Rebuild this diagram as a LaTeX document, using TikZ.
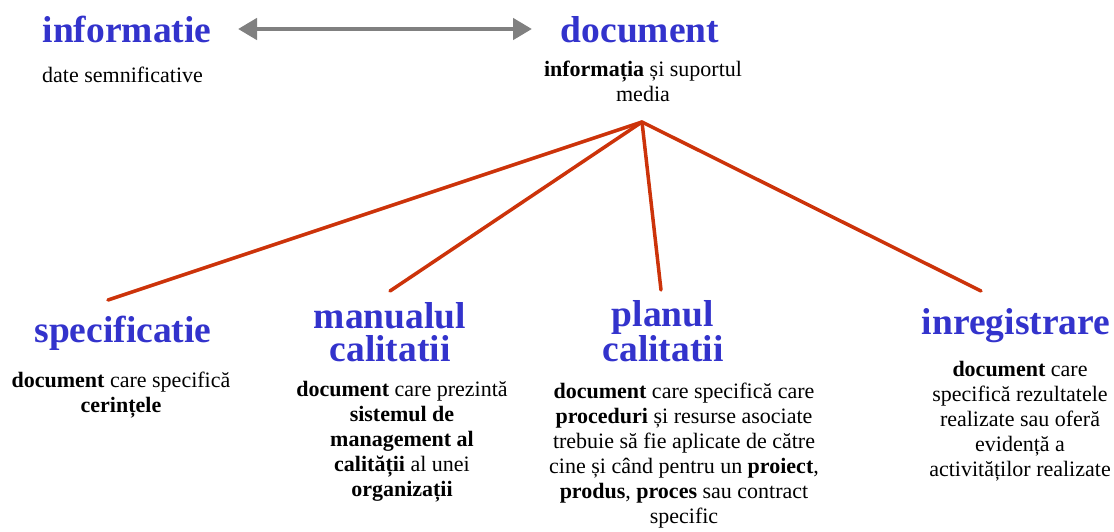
\documentclass[tikz,border=0pt]{standalone}
\usepackage{fontspec}
\setmainfont{Liberation Serif}
\usetikzlibrary{arrows.meta}
\definecolor{titleblue}{RGB}{51,51,204}
\definecolor{linkred}{RGB}{204,51,10}
\definecolor{arrowgray}{RGB}{128,128,128}
\begin{document}
\begin{tikzpicture}[x=1pt,y=-1pt,
  % multi-line nodes are placed by the baseline of their last line
  title/.style={anchor=base,align=center,text=titleblue,inner sep=0pt,
    font=\fontsize{37.5}{32.5}\selectfont\bfseries},
  desc/.style={anchor=base,align=center,text=black,inner sep=0pt,
    font=\fontsize{22}{25}\selectfont},
  link/.style={draw=linkred,line width=3.5pt,line cap=round},
  both/.style={draw=arrowgray,line width=4.5pt,
    {Triangle[length=19pt,width=21pt]}-{Triangle[length=19pt,width=21pt]}}]
\useasboundingbox (0,0) rectangle (1114,531);

% top row
\node[title] (info) at (127,42) {informatie};
\node[desc,anchor=base west] (infod) at (42,82) {date semnificative};
\node[title] (doc) at (640,42) {document};
\node[desc] (docd) at (643,101) {\textbf{informația} și suportul\\media};
\coordinate (infoR) at (238,29);
\coordinate (docL) at (532,29);
\draw[both] (infoR) -- (docL);

% hub and branches
\coordinate (hub) at (642,122);
\coordinate (e1) at (108,300);
\coordinate (e2) at (390,291);
\coordinate (e3) at (661,290);
\coordinate (e4) at (981,291);
\draw[link] (hub) -- (e1);
\draw[link] (hub) -- (e2);
\draw[link] (hub) -- (e3);
\draw[link] (hub) -- (e4);

% bottom row
\node[title] (spec) at (123,342) {specificatie};
\node[desc] (specd) at (121,412) {\textbf{document} care specifică\\\textbf{cerințele}};

\node[title] (man) at (390,361) {manualul\\calitatii};
\node[desc] (mand) at (402,496) {\textbf{document} care prezintă\\\textbf{sistemul de}\\\textbf{management al}\\\textbf{calității} al unei\\\textbf{organizații}};

\node[title] (plan) at (663,361) {planul\\calitatii};
\node[desc] (pland) at (684,523) {\textbf{document} care specifică care\\\textbf{proceduri} și resurse asociate\\trebuie să fie aplicate de către\\cine și când pentru un \textbf{proiect},\\\textbf{produs}, \textbf{proces} sau contract\\specific};

\node[title] (inreg) at (1016,334) {inregistrare};
\node[desc] (inregd) at (1020,476) {\textbf{document} care\\specifică rezultatele\\realizate sau oferă\\evidență a\\activităților realizate};
\end{tikzpicture}
\end{document}
